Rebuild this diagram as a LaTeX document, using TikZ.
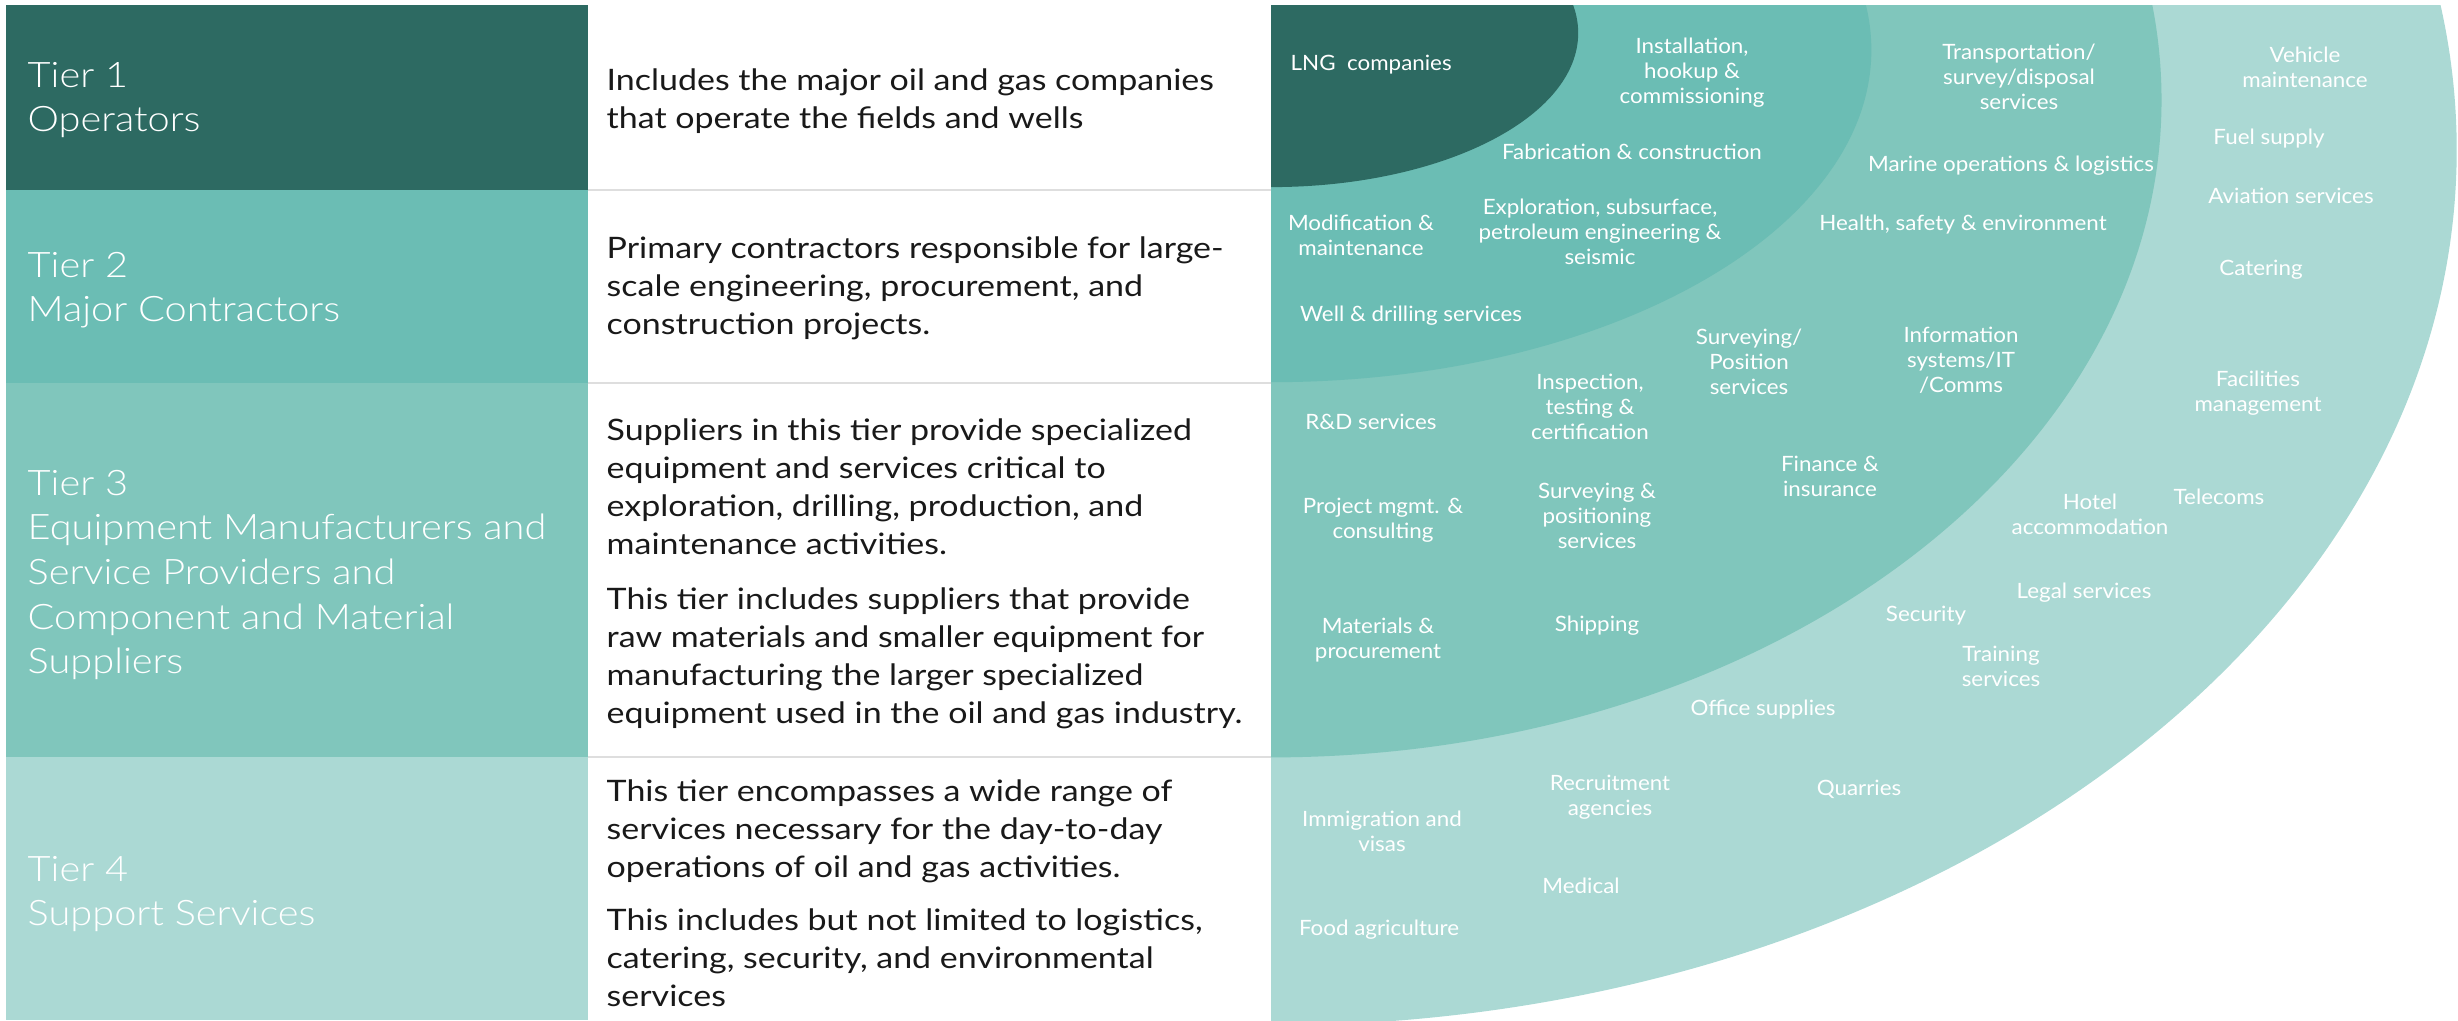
\documentclass[tikz,border=0pt]{standalone}
\usepackage{fontspec}
\setmainfont{Lato}[FakeStretch=1.15]
\newfontfamily\labelfont{Lato Light}[FakeStretch=1.13]
\newfontfamily\itemfont{Lato}[FakeStretch=1.06]
\usetikzlibrary{positioning}

\definecolor{tierone}{HTML}{2D6A62}
\definecolor{tiertwo}{HTML}{6BBDB4}
\definecolor{tierthree}{HTML}{80C6BC}
\definecolor{tierfour}{HTML}{ABD9D4}
\definecolor{gridline}{HTML}{DEDEDE}

\begin{document}
\begin{tikzpicture}[
    x=0.01cm, y=-0.01cm,
    tierlabel/.style={anchor=west, align=left, inner sep=0pt, text=white, font=\labelfont\fontsize{10}{12.7}\selectfont},
    tierdesc/.style={anchor=west, align=left, inner sep=0pt, text=black!90, font=\fontsize{8.4}{10.8}\selectfont},
    item/.style={align=center, inner sep=0pt, text=white, font=\itemfont\fontsize{6}{7.1}\selectfont}
]
    \useasboundingbox (0,0) rectangle (2458,1020);

    % coloured tier cells and the row lines of the table
    \fill[tierone] (6,5) rectangle (588,190);
    \fill[tiertwo] (6,190) rectangle (588,383);
    \fill[tierthree] (6,383) rectangle (588,757);
    \fill[tierfour] (6,757) rectangle (588,1020);
    \draw[gridline, line width=0.02cm] (588,190) -- (1271,190);
    \draw[gridline, line width=0.02cm] (588,383) -- (1271,383);
    \draw[gridline, line width=0.02cm] (588,757) -- (1271,757);

    % nested rings, one per tier
    \begin{scope}
        \clip (1271,5) rectangle (2458,1020);
        \fill[tierfour] (1271,150) ellipse [x radius=11.85cm, y radius=8.75cm];
        \fill[tierthree] (1271,100) ellipse [x radius=8.90cm, y radius=6.57cm];
        \fill[tiertwo] (1271,50) ellipse [x radius=6.00cm, y radius=3.32cm];
        \fill[tierone] (1271,33) ellipse [x radius=3.07cm, y radius=1.54cm];
    \end{scope}

    \node[tierlabel] (t1) at (27,100) {Tier 1\\Operators};
    \node[tierlabel] (t2) at (27,290) {Tier 2\\Major Contractors};
    \node[tierlabel] (t3) at (27,575) {Tier 3\\Equipment Manufacturers and\\Service Providers and\\Component and Material\\Suppliers};
    \node[tierlabel] (t4) at (27,894) {Tier 4\\Support Services};

    \node[tierdesc] (d1) at (606,101) {Includes the major oil and gas companies\\that operate the fields and wells};
    \node[tierdesc] (d2) at (606,288) {Primary contractors responsible for large-\\scale engineering, procurement, and\\construction projects.};
    \node[tierdesc] (d3) at (606,574) {Suppliers in this tier provide specialized\\equipment and services critical to\\exploration, drilling, production, and\\maintenance activities.\\[0.17cm]This tier includes suppliers that provide\\raw materials and smaller equipment for\\manufacturing the larger specialized\\equipment used in the oil and gas industry.};
    \node[tierdesc] (d4) at (606,893) {This tier encompasses a wide range of\\services necessary for the day-to-day\\operations of oil and gas activities.\\[0.15cm]This includes but not limited to logistics,\\catering, security, and environmental\\services};

    % tier 1 ring
    \node[item, anchor=west] (lng) at (1290,65) {LNG\ \ companies};

    % tier 2 ring
    \node[item] (install) at (1692,73) {Installation,\\hookup \&\\commissioning};
    \node[item] (fab) at (1632,152) {Fabrication \& construction};
    \node[item] (modif) at (1361,235) {Modification \&\\maintenance};
    \node[item] (explor) at (1600,232) {Exploration, subsurface,\\petroleum engineering \&\\seismic};
    \node[item] (well) at (1411,316) {Well \& drilling services};

    % tier 3 ring
    \node[item] (transp) at (2019,77) {Transportation/\\survey/disposal\\services};
    \node[item] (marine) at (2011,166) {Marine operations \& logistics};
    \node[item] (hse) at (1963,225) {Health, safety \& environment};
    \node[item] (survpos) at (1749,362) {Surveying/\\Position\\services};
    \node[item] (infosys) at (1961,360) {Information\\systems/IT\\/Comms};
    \node[item] (inspect) at (1590,407) {Inspection,\\testing \&\\certification};
    \node[item] (rnd) at (1371,422) {R\&D services};
    \node[item] (survey) at (1597,516) {Surveying \&\\positioning\\services};
    \node[item] (finance) at (1830,476) {Finance \&\\insurance};
    \node[item] (project) at (1383,520) {Project mgmt. \&\\consulting};
    \node[item] (material) at (1378,640) {Materials \&\\procurement};
    \node[item] (shipping) at (1597,626) {Shipping};

    % tier 4 ring
    \node[item] (vehicle) at (2305,67) {Vehicle\\maintenance};
    \node[item] (fuel) at (2269,139) {Fuel supply};
    \node[item] (aviation) at (2291,196) {Aviation services};
    \node[item] (catering) at (2261,270) {Catering};
    \node[item] (facility) at (2258,393) {Facilities\\management};
    \node[item] (hotel) at (2090,514) {Hotel\\accommodation};
    \node[item] (telecom) at (2219,497) {Telecoms};
    \node[item] (legal) at (2084,593) {Legal services};
    \node[item] (security) at (1926,616) {Security};
    \node[item] (training) at (2001,666) {Training\\services};
    \node[item] (office) at (1763,710) {Office supplies};
    \node[item] (recruit) at (1610,797) {Recruitment\\agencies};
    \node[item] (quarry) at (1859,789) {Quarries};
    \node[item] (immig) at (1382,831) {Immigration and\\visas};
    \node[item] (medical) at (1581,886) {Medical};
    \node[item] (food) at (1379,930) {Food agriculture};
\end{tikzpicture}
\end{document}
